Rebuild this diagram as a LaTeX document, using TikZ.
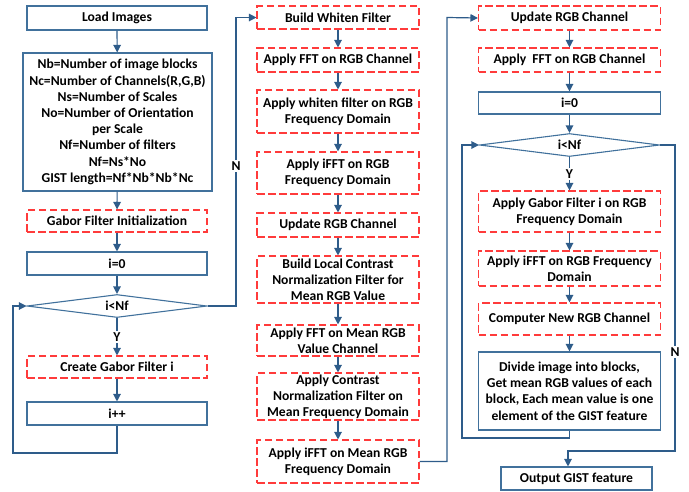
\documentclass[tikz,border=0pt]{standalone}
\usepackage{fontspec}
\setmainfont{Carlito}
\usepackage{xcolor}
\usepackage{tikz}
\usetikzlibrary{positioning, shapes.geometric, arrows, arrows.meta}
\definecolor{boxblue}{HTML}{41719C}
\definecolor{lineblue}{HTML}{2E5C8A}
\definecolor{dashred}{HTML}{FF3B3B}
\tikzstyle{arrow} = [line width=1.2pt,->,>={Triangle[length=7.5pt,width=7.5pt]},lineblue]

\begin{document}
\begin{tikzpicture}[
	x=1pt, y=-1pt,
	font=\fontsize{13.6}{16.2}\selectfont\bfseries,
	sbox/.style={draw=boxblue, line width=1.1pt, align=center, inner xsep=2pt, inner ysep=1pt, minimum height=23pt},
	dbox/.style={draw=dashred, dash pattern=on 7.5pt off 3.5pt, line width=1.1pt, align=center, inner xsep=2pt, inner ysep=1pt, minimum height=23pt},
	cond/.style={diamond, draw=boxblue, line width=1.1pt, aspect=8, inner sep=0pt, minimum width=180pt, minimum height=23pt},
	lbl/.style={fill=white, text=black, inner sep=1.5pt}
	]
	\useasboundingbox (0,0) rectangle (689,491);
	
	% left column
	\node[sbox, minimum width=180pt, minimum height=24pt] (load) at (117,18) {Load Images};
	\node[sbox, minimum width=189pt, minimum height=138pt] (params) at (117.5,122) {Nb=Number of image blocks\\ Nc=Number of Channels(R,G,B)\\ Ns=Number of Scales\\ No=Number of Orientation\\ per Scale\\ Nf=Number of filters\\ Nf=Ns*No\\ GIST length=Nf*Nb*Nb*Nc};
	\node[dbox, minimum width=180pt, minimum height=22pt] (gabinit) at (117,221) {Gabor Filter Initialization};
	\node[sbox, minimum width=180pt] (izeroa) at (117,263.5) {i=0};
	\node[cond] (conda) at (117,306) {i<Nf};
	\node[dbox, minimum width=180pt, minimum height=22pt] (create) at (117,367) {Create Gabor Filter i};
	\node[sbox, minimum width=180pt] (inc) at (117,413.5) {i++};
	
	\draw[arrow] (load) -- (params);
	\draw[arrow] (params) -- (gabinit);
	\draw[arrow] (gabinit) -- (izeroa);
	\draw[arrow] (izeroa) -- (conda);
	\draw[arrow] (conda) -- node[lbl] (ya) {Y} (create);
	\draw[arrow] (create) -- (inc);
	\coordinate (loopa) at (13,453);
	\draw[arrow] (inc.south) |- (loopa) |- (conda.west);
	
	% middle column
	\node[dbox, minimum width=162pt] (whiten) at (338,17.5) {Build Whiten Filter};
	\node[dbox, minimum width=162pt, minimum height=24pt] (ffta) at (338,60) {Apply FFT on RGB Channel};
	\node[dbox, minimum width=162pt, minimum height=43pt] (wfilt) at (338,111.5) {Apply whiten filter on RGB\\ Frequency Domain};
	\node[dbox, minimum width=162pt, minimum height=42pt] (iffta) at (338,173) {Apply iFFT on RGB\\ Frequency Domain};
	\node[dbox, minimum width=162pt, minimum height=24pt] (upda) at (338,225) {Update RGB Channel};
	\node[dbox, minimum width=162pt, minimum height=47pt] (lcn) at (338,279.5) {Build Local Contrast\\ Normalization Filter for\\ Mean RGB Value};
	\node[dbox, minimum width=162pt, minimum height=31pt] (fftm) at (338,340.5) {Apply FFT on Mean RGB\\ Value Channel};
	\node[dbox, minimum width=162pt, minimum height=47pt] (cnf) at (338,396.5) {Apply Contrast\\ Normalization Filter on\\ Mean Frequency Domain};
	\node[dbox, minimum width=162pt, minimum height=43pt] (ifftm) at (338,461.5) {Apply iFFT on Mean RGB\\ Frequency Domain};
	
	\draw[arrow] (whiten) -- (ffta);
	\draw[arrow] (ffta) -- (wfilt);
	\draw[arrow] (wfilt) -- (iffta);
	\draw[arrow] (iffta) -- (upda);
	\draw[arrow] (upda) -- (lcn);
	\draw[arrow] (lcn) -- (fftm);
	\draw[arrow] (fftm) -- (cnf);
	\draw[arrow] (cnf) -- (ifftm);
	\coordinate (turna) at (236,17.5);
	\draw[arrow] (conda.east) -| (turna) -- (whiten.west);
	\node[lbl] (na) at (236,166) {N};
	
	% right column
	\node[dbox, minimum width=182pt, minimum height=24pt] (updb) at (569.5,18) {Update RGB Channel};
	\node[dbox, minimum width=182pt, minimum height=24pt] (fftb) at (569.5,60) {Apply~ FFT on RGB Channel};
	\node[sbox, minimum width=182pt, minimum height=22pt] (izerob) at (569.5,103) {i=0};
	\node[cond] (condb) at (569.5,145) {i<Nf};
	\node[dbox, minimum width=182pt, minimum height=41pt] (gabapp) at (569.5,211.5) {Apply Gabor Filter i on RGB\\ Frequency Domain};
	\node[dbox, minimum width=182pt, minimum height=35pt] (ifftb) at (569.5,268.5) {Apply iFFT on RGB Frequency\\ Domain};
	\node[dbox, minimum width=182pt, minimum height=32pt] (newch) at (569.5,319) {Computer New RGB Channel};
	\node[sbox, minimum width=182pt, minimum height=78pt] (divide) at (569.5,391) {Divide image into blocks,\\ Get mean RGB values of each\\ block, Each mean value is one\\ element of the GIST feature};
	\node[sbox, minimum width=151pt, minimum height=23pt] (output) at (576.5,478.5) {Output GIST feature};
	
	\draw[arrow] (updb) -- (fftb);
	\draw[arrow] (fftb) -- (izerob);
	\draw[arrow] (izerob) -- (condb);
	\draw[arrow] (condb) -- node[lbl] (yb) {Y} (gabapp);
	\draw[arrow] (gabapp) -- (ifftb);
	\draw[arrow] (ifftb) -- (newch);
	\draw[arrow] (newch) -- (divide);
	\coordinate (loopb) at (462,438);
	\draw[arrow] (divide.south) |- (loopb) |- (condb.west);
	\coordinate (turnb) at (447,17.5);
	\draw[arrow] (ifftm.east) -| (turnb) -- (updb.west);
	\coordinate (turnc) at (675,451);
	\draw[arrow] (condb.east) -| (turnc) -| ([xshift=-8.5pt]output.north);
	\node[lbl] (nb) at (675,352) {N};
\end{tikzpicture}
\end{document}
